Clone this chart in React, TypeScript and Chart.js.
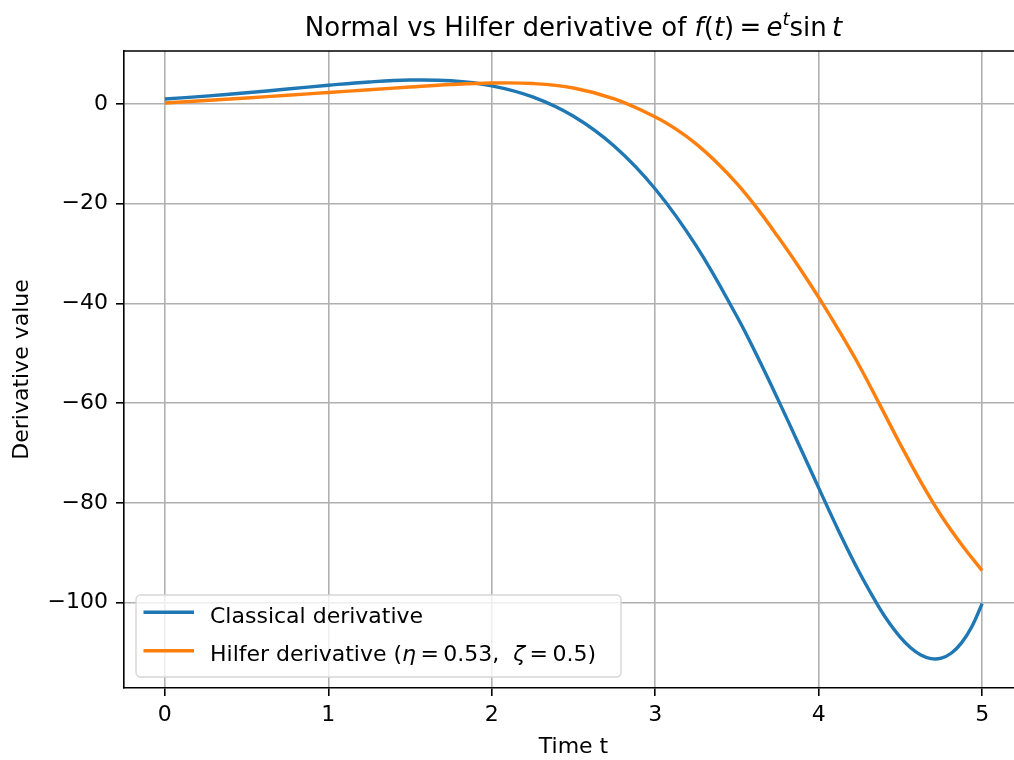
import React, { useEffect, useRef } from "react";
import { Chart, registerables } from "chart.js";

Chart.register(...registerables);

// ---- data ----
const tClassical = [0, 0.25, 0.5, 0.75, 1.0, 1.25, 1.5, 1.75, 2.0, 2.25, 2.5, 2.75, 3.0, 3.25, 3.5, 3.625, 3.75, 3.875, 4.0, 4.125, 4.25, 4.375, 4.4375, 4.5, 4.5625, 4.625, 4.6875, 4.75, 4.8125, 4.875, 4.9375, 5.0];
const classicalValues = [1.0, 1.56, 2.24, 2.99, 3.75, 4.41, 4.79, 4.64, 3.64, 1.42, -2.47, -8.49, -17.05, -28.43, -42.63, -50.67, -59.2, -68.05, -77.0, -85.83, -94.02, -101.26, -104.35, -106.97, -109.06, -110.51, -111.25, -111.15, -110.12, -108.04, -104.79, -100.21];

const tHilfer = [0, 0.25, 0.5, 0.75, 1.0, 1.25, 1.5, 1.75, 2.0, 2.25, 2.5, 2.75, 3.0, 3.125, 3.25, 3.375, 3.5, 3.625, 3.75, 3.875, 4.0, 4.125, 4.25, 4.375, 4.5, 4.625, 4.75, 4.875, 5.0];
const hilferValues = [0.2, 0.7, 1.2, 1.75, 2.3, 2.85, 3.4, 3.9, 4.2, 4.1, 3.2, 1.0, -2.6, -5.0, -8.0, -11.7, -16.0, -21.0, -26.6, -32.5, -38.8, -45.5, -52.6, -60.4, -68.3, -75.8, -82.6, -88.4, -93.6];

const xTicks = [0, 1, 2, 3, 4, 5];
const yTicks = [0, -20, -40, -60, -80, -100];

const seriesLabels = ["Classical derivative", "Hilfer derivative (η = 0.53, ζ = 0.5)"];
const seriesColors = ["#1f77b4", "#ff7f0e"];
const xAxisTitle = "Time t";
const yAxisTitle = "Derivative value";

type Seg = { text: string; italic?: boolean; scale?: number; rise?: number };

const titleSegs: Seg[] = [
  { text: "Normal vs Hilfer derivative of " },
  { text: "f", italic: true },
  { text: "(" },
  { text: "t", italic: true },
  { text: ")" },
  { text: "\u2009=\u2009" },
  { text: "e", italic: true },
  { text: "t", italic: true, scale: 0.7, rise: 0.42 },
  { text: "sin" },
  { text: "\u2009" },
  { text: "t", italic: true },
];

const legendSegs: Seg[][] = [
  [{ text: "Classical derivative" }],
  [
    { text: "Hilfer derivative (" },
    { text: "η", italic: true },
    { text: "\u2009=\u20090.53,  " },
    { text: "ζ", italic: true },
    { text: "\u2009=\u20090.5)" },
  ],
];

const FAMILY = "'DejaVu Sans', 'Noto Sans', sans-serif";

function setFont(ctx: CanvasRenderingContext2D, size: number, italic?: boolean) {
  ctx.font = `${italic ? "italic " : ""}${size}px ${FAMILY}`;
}

function measureRich(ctx: CanvasRenderingContext2D, segs: Seg[], size: number) {
  let w = 0;
  for (const s of segs) {
    setFont(ctx, size * (s.scale ?? 1), s.italic);
    w += ctx.measureText(s.text).width;
  }
  return w;
}

function drawRich(ctx: CanvasRenderingContext2D, segs: Seg[], size: number, x: number, baseline: number) {
  let cx = x;
  ctx.textAlign = "left";
  ctx.textBaseline = "alphabetic";
  for (const s of segs) {
    setFont(ctx, size * (s.scale ?? 1), s.italic);
    ctx.fillText(s.text, cx, baseline - (s.rise ?? 0) * size);
    cx += ctx.measureText(s.text).width;
  }
}

function fmt(v: number) {
  return v < 0 ? "\u2212" + Math.abs(v) : String(v);
}

const decorPlugin = {
  id: "decor",
  afterDraw(chart: any) {
    const { ctx, chartArea } = chart;
    ctx.save();
    // top & right spines
    ctx.strokeStyle = "#000";
    ctx.lineWidth = 1.6;
    ctx.beginPath();
    ctx.moveTo(chartArea.left, chartArea.top);
    ctx.lineTo(chartArea.right, chartArea.top);
    ctx.lineTo(chartArea.right, chartArea.bottom);
    ctx.stroke();

    // title
    ctx.fillStyle = "#000";
    const tSize = 26;
    const tw = measureRich(ctx, titleSegs, tSize);
    const cx = (chartArea.left + chartArea.right) / 2;
    drawRich(ctx, titleSegs, tSize, cx - tw / 2, 36);

    // legend
    const bx = 136, by = 595, bw = 485, bh = 82, r = 4.5;
    ctx.beginPath();
    ctx.moveTo(bx + r, by);
    ctx.lineTo(bx + bw - r, by);
    ctx.arcTo(bx + bw, by, bx + bw, by + r, r);
    ctx.lineTo(bx + bw, by + bh - r);
    ctx.arcTo(bx + bw, by + bh, bx + bw - r, by + bh, r);
    ctx.lineTo(bx + r, by + bh);
    ctx.arcTo(bx, by + bh, bx, by + bh - r, r);
    ctx.lineTo(bx, by + r);
    ctx.arcTo(bx, by, bx + r, by, r);
    ctx.closePath();
    ctx.fillStyle = "rgba(255,255,255,0.8)";
    ctx.fill();
    ctx.strokeStyle = "#d6d6d6";
    ctx.lineWidth = 1.4;
    ctx.stroke();

    const rowY = [612.3, 650.7];
    const baseY = [622.6, 661.0];
    for (let i = 0; i < 2; i++) {
      ctx.strokeStyle = seriesColors[i];
      ctx.lineWidth = 3.4;
      ctx.beginPath();
      ctx.moveTo(143.5, rowY[i]);
      ctx.lineTo(194, rowY[i]);
      ctx.stroke();
      ctx.fillStyle = "#000";
      drawRich(ctx, legendSegs[i], 22, 210, baseY[i]);
    }
    ctx.restore();
  },
};

export default function App() {
  const ref = useRef<HTMLCanvasElement | null>(null);

  useEffect(() => {
    if (!ref.current) return;
    const tickFont = { family: FAMILY, size: 22 };
    const chart = new Chart(ref.current, {
      type: "line",
      data: {
        datasets: [
          {
            label: seriesLabels[0],
            data: tClassical.map((t, i) => ({ x: t, y: classicalValues[i] })),
            borderColor: seriesColors[0],
            backgroundColor: seriesColors[0],
            borderWidth: 3.4,
            pointRadius: 0,
            fill: false,
            tension: 0.4,
            order: 1,
          },
          {
            label: seriesLabels[1],
            data: tHilfer.map((t, i) => ({ x: t, y: hilferValues[i] })),
            borderColor: seriesColors[1],
            backgroundColor: seriesColors[1],
            borderWidth: 3.4,
            pointRadius: 0,
            fill: false,
            tension: 0.4,
            order: 0,
          },
        ],
      },
      options: {
        animation: false,
        responsive: false,
        devicePixelRatio: 1,
        layout: { padding: { top: 51, right: 17, bottom: 0, left: 0 } },
        plugins: {
          legend: { display: false },
          title: { display: false },
          tooltip: { enabled: false },
        },
        elements: { point: { radius: 0 } },
        scales: {
          x: {
            type: "linear",
            min: -0.25,
            max: 5.25,
            afterBuildTicks: (s: any) => {
              s.ticks = xTicks.map((v) => ({ value: v }));
            },
            afterFit: (s: any) => {
              s.height = 72;
            },
            ticks: {
              font: tickFont,
              color: "#000",
              padding: 6,
              maxRotation: 0,
              autoSkip: false,
              callback: (v: any) => fmt(Number(v)),
            },
            grid: {
              color: "#b0b0b0",
              lineWidth: 1.6,
              tickColor: "#000",
              tickLength: 8,
              tickWidth: 1.6,
            },
            border: { display: true, color: "#000", width: 1.6 },
            title: {
              display: true,
              text: xAxisTitle,
              font: tickFont,
              color: "#000",
              padding: { top: 0, bottom: 0 },
            },
          },
          y: {
            type: "linear",
            min: -117.14,
            max: 10.62,
            afterBuildTicks: (s: any) => {
              s.ticks = yTicks.map((v) => ({ value: v }));
            },
            afterFit: (s: any) => {
              s.width = 124;
            },
            ticks: {
              font: tickFont,
              color: "#000",
              padding: 8,
              autoSkip: false,
              callback: (v: any) => fmt(Number(v)),
            },
            grid: {
              color: "#b0b0b0",
              lineWidth: 1.6,
              tickColor: "#000",
              tickLength: 8,
              tickWidth: 1.6,
            },
            border: { display: true, color: "#000", width: 1.6 },
            title: {
              display: true,
              text: yAxisTitle,
              font: tickFont,
              color: "#000",
              padding: { top: 9, bottom: 0 },
            },
          },
        },
      },
      plugins: [decorPlugin],
    } as any);
    return () => chart.destroy();
  }, []);

  return (
    <div
      style={{
        position: "fixed",
        left: 0,
        top: 0,
        width: 1014,
        height: 760,
        overflow: "hidden",
        background: "#fff",
      }}
    >
      <canvas ref={ref} width={1040} height={760} style={{ display: "block" }} />
    </div>
  );
}
